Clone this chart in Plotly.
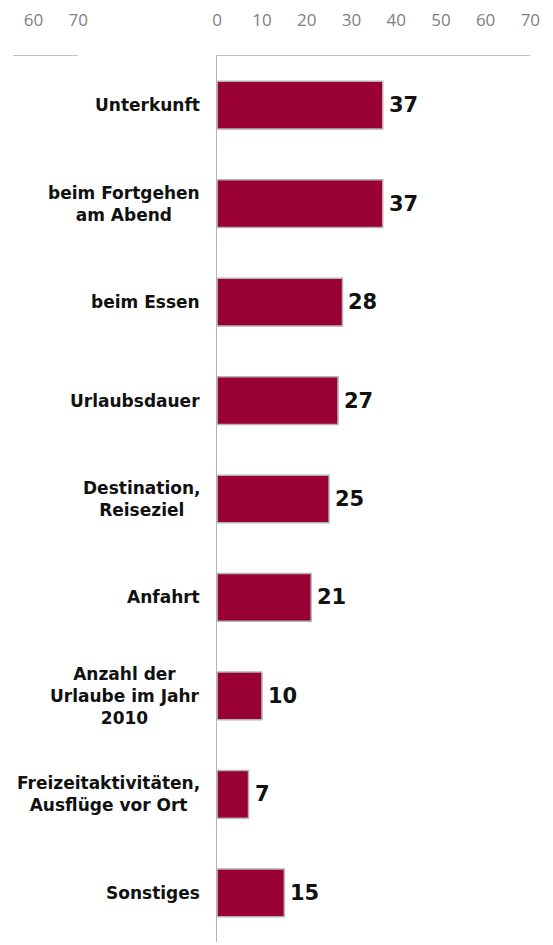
import plotly.graph_objects as go

categories = [
    "Unterkunft",
    "beim Fortgehen<br>am Abend",
    "beim Essen",
    "Urlaubsdauer",
    "Destination,<br>Reiseziel",
    "Anfahrt",
    "Anzahl der<br>Urlaube im Jahr<br>2010",
    "Freizeitaktivitäten,<br>Ausflüge vor Ort",
    "Sonstiges",
]
values = [37, 37, 28, 27, 25, 21, 10, 7, 15]
tick_vals = [0, 10, 20, 30, 40, 50, 60, 70]

# page has an 8px body margin; figure fits inside the 553x945 window
W, H = 545, 937
BAR = "#990033"
LABEL_FONT = "DejaVu Sans"
TICK_FONT = dict(family="Open Sans", size=17, color="#808080")

fig = go.Figure()
fig.add_trace(go.Bar(
    x=values, y=categories, orientation="h",
    marker=dict(color=BAR, line=dict(color="#b4b4b4", width=1.5)),
    hoverinfo="skip", showlegend=False,
))
# neighbouring (cut-off) axis on the left
fig.add_trace(go.Scatter(x=[None], y=[categories[0]], xaxis="x2", yaxis="y",
                         showlegend=False, hoverinfo="skip"))

for c, v in zip(categories, values):
    fig.add_annotation(x=v, y=c, xref="x", yref="y", text=str(v),
                       showarrow=False, xanchor="left", xshift=4,
                       font=dict(family=LABEL_FONT, size=21, color="#111111",
                                 weight="bold"))
    fig.add_annotation(x=0, y=c, xref="x domain", yref="y", text=c,
                       showarrow=False, xanchor="right", align="center",
                       xshift=-15,
                       font=dict(family=LABEL_FONT, size=17, color="#111111",
                                 weight="bold"))

fig.update_layout(
    width=W, height=H,
    margin=dict(l=0, r=0, t=43, b=3),
    paper_bgcolor="white", plot_bgcolor="white",
    bargap=0.515,
    xaxis=dict(domain=[210 / W, 532 / W], range=[0, 70], side="top",
               tickvals=tick_vals, ticks="", showgrid=False, zeroline=False,
               showline=True, linecolor="#c0c0c0", linewidth=1,
               tickfont=TICK_FONT, ticklabelstandoff=22, anchor="y"),
    xaxis2=dict(domain=[0, 67 / W], range=[70 - 67 / 4.6, 70], side="top",
                tickvals=tick_vals, ticks="", showgrid=False, zeroline=False,
                showline=True, linecolor="#c0c0c0", linewidth=1,
                tickfont=TICK_FONT, ticklabelstandoff=22, anchor="y"),
    yaxis=dict(domain=[0, 1], autorange="reversed", showticklabels=False,
               ticks="", showgrid=False, zeroline=False, showline=True,
               linecolor="#b4b4b4", linewidth=1, anchor="x"),
)

fig.write_html("out.html")
